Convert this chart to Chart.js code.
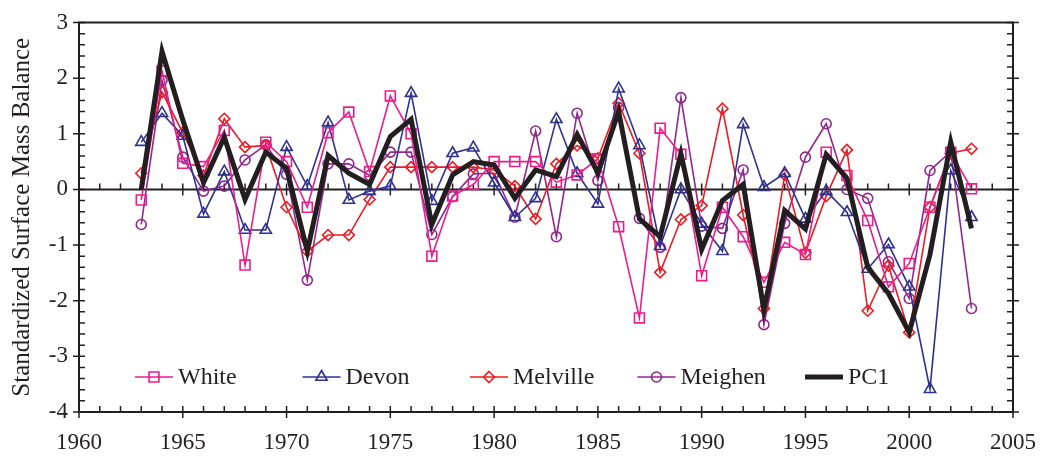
<!DOCTYPE html>
<html>
<head>
<meta charset="utf-8">
<script src="https://cdn.jsdelivr.net/npm/chart.js@4.4.1/dist/chart.umd.min.js"></script>
<style>
  html, body { margin: 0; padding: 0; background: #fff; }
  #wrap { width: 1053px; height: 467px; }
</style>
</head>
<body>
<div id="wrap"><canvas id="massChart" width="1053" height="467"></canvas></div>
<script>
const years = [1963, 1964, 1965, 1966, 1967, 1968, 1969, 1970, 1971, 1972,
  1973, 1974, 1975, 1976, 1977, 1978, 1979, 1980, 1981, 1982,
  1983, 1984, 1985, 1986, 1987, 1988, 1989, 1990, 1991, 1992,
  1993, 1994, 1995, 1996, 1997, 1998, 1999, 2000, 2001, 2002, 2003];

const white = [-0.19, 2.13, 0.47, 0.41, 1.06, -1.36, 0.85, 0.50, -0.32, 1.02,
  1.39, 0.32, 1.68, 1.00, -1.20, -0.12, 0.09, 0.50, 0.50, 0.50,
  0.13, 0.26, 0.55, -0.67, -2.31, 1.10, 0.63, -1.55, -0.32, -0.85,
  -1.67, -0.95, -1.17, 0.67, 0.25, -0.56, -1.75, -1.33, -0.32, 0.67, 0.01];

const devon = [0.85, 1.37, 0.96, -0.44, 0.32, -0.73, -0.73, 0.76, 0.06, 1.20,
  -0.19, -0.03, 0.06, 1.73, -0.21, 0.65, 0.75, 0.12, -0.50, -0.16,
  1.26, 0.29, -0.26, 1.81, 0.79, -1.02, 0.00, -0.62, -1.11, 1.17,
  0.04, 0.29, -0.53, -0.03, -0.41, -1.43, -0.99, -1.75, -3.59, 0.34, -0.50];

const melville = [0.29, 1.75, 1.02, 0.25, 1.27, 0.76, 0.79, -0.32, -1.11, -0.82,
  -0.82, -0.18, 0.40, 0.40, 0.40, 0.40, 0.40, 0.35, 0.06, -0.53,
  0.46, 0.79, 0.56, 1.55, 0.65, -1.49, -0.54, -0.29, 1.45, -0.46,
  -2.14, 0.26, -1.14, -0.12, 0.71, -2.18, -1.37, -2.57, -0.32, 0.65, 0.73];

const meighen = [-0.63, 1.96, 0.58, -0.03, 0.06, 0.53, 0.80, 0.27, -1.63, 0.46,
  0.46, 0.25, 0.67, 0.67, -0.81, -0.13, 0.28, 0.29, -0.50, 1.05,
  -0.85, 1.37, 0.16, 1.47, -0.52, -1.04, 1.65, -0.66, -0.70, 0.35,
  -2.43, -0.61, 0.58, 1.18, 0.00, -0.16, -1.30, -1.96, 0.34, 0.68, -2.14];

const pc1 = [0.00, 2.48, 1.25, 0.12, 0.94, -0.18, 0.67, 0.38, -1.11, 0.61,
  0.29, 0.09, 0.95, 1.26, -0.63, 0.26, 0.50, 0.44, -0.16, 0.35,
  0.23, 0.99, 0.30, 1.40, -0.53, -0.85, 0.64, -1.08, -0.20, 0.09,
  -2.16, -0.38, -0.71, 0.63, 0.20, -1.40, -1.87, -2.57, -1.17, 0.85, -0.70];

const seriesNames = ['White', 'Devon', 'Melville', 'Meighen', 'PC1'];
const xTicks = [1960, 1965, 1970, 1975, 1980, 1985, 1990, 1995, 2000, 2005];
const yTicks = [-4, -3, -2, -1, 0, 1, 2, 3];

const INK = '#231f20';
const FONT = "'Liberation Serif', 'Times New Roman', serif";

function points(values) {
  return years.map((yr, i) => ({ x: yr, y: values[i] }));
}

function series(label, values, color, style, radius) {
  return {
    label: label,
    data: points(values),
    borderColor: color,
    borderWidth: 1.6,
    pointStyle: style,
    pointRadius: radius,
    pointBorderColor: color,
    pointBackgroundColor: 'rgba(0,0,0,0)',
    pointBorderWidth: 1.6,
    tension: 0,
    order: 1
  };
}

const datasets = [
  series(seriesNames[0], white, '#ec1c8c', 'rect', 7),
  series(seriesNames[1], devon, '#2e3192', 'triangle', 6.5),
  series(seriesNames[2], melville, '#ed1c24', 'rectRot', 5.5),
  series(seriesNames[3], meighen, '#92278f', 'circle', 5),
  {
    label: seriesNames[4],
    data: points(pc1),
    borderColor: INK,
    borderWidth: 5,
    pointRadius: 0,
    tension: 0,
    order: 0
  }
];

// box, zero line and the small in/out tick marks
const frameTicks = {
  id: 'frameTicks',
  beforeDatasetsDraw(chart) {
    const { ctx, chartArea: a, scales: { x, y } } = chart;
    const y0 = y.getPixelForValue(0);
    ctx.save();
    ctx.strokeStyle = INK;
    ctx.lineWidth = 2;
    ctx.strokeRect(a.left, a.top, a.right - a.left, a.bottom - a.top);
    ctx.beginPath();
    ctx.moveTo(a.left, y0);
    ctx.lineTo(a.right, y0);
    ctx.stroke();

    ctx.lineWidth = 1.5;
    ctx.beginPath();
    for (let yr = x.min; yr <= x.max; yr++) {
      const px = x.getPixelForValue(yr);
      const major = yr % 5 === 0;
      ctx.moveTo(px, a.bottom + (major ? 6 : 0));
      ctx.lineTo(px, a.bottom - 6);
      ctx.moveTo(px, y0 + (major ? 6 : 0));
      ctx.lineTo(px, y0 - 6);
    }
    for (let i = y.min * 5; i <= y.max * 5; i++) {
      const py = y.getPixelForValue(i / 5);
      const major = i % 5 === 0;
      ctx.moveTo(a.left - (major ? 6 : 0), py);
      ctx.lineTo(a.left + 6, py);
      ctx.moveTo(a.right + (major ? 6 : 0), py);
      ctx.lineTo(a.right - 6, py);
    }
    ctx.stroke();
    ctx.restore();
  }
};

function drawMarker(ctx, style, r, cx, cy) {
  ctx.beginPath();
  if (style === 'rect') {
    const s = r * Math.SQRT1_2;
    ctx.rect(cx - s, cy - s, 2 * s, 2 * s);
  } else if (style === 'rectRot') {
    ctx.moveTo(cx, cy - r);
    ctx.lineTo(cx + r, cy);
    ctx.lineTo(cx, cy + r);
    ctx.lineTo(cx - r, cy);
    ctx.closePath();
  } else if (style === 'triangle') {
    const half = r * Math.sin(Math.PI / 3);
    ctx.moveTo(cx, cy - r);
    ctx.lineTo(cx + half, cy + r / 2);
    ctx.lineTo(cx - half, cy + r / 2);
    ctx.closePath();
  } else if (style === 'circle') {
    ctx.arc(cx, cy, r, 0, Math.PI * 2);
  }
  ctx.stroke();
}

// legend row sitting inside the plot, near the bottom
const insideLegend = {
  id: 'insideLegend',
  afterDraw(chart) {
    const { ctx, chartArea: a } = chart;
    const rowY = a.bottom - 35;
    const startX = a.left + 56;
    const step = 167.5;
    const lineLen = 38;
    ctx.save();
    ctx.font = '24px ' + FONT;
    ctx.textBaseline = 'middle';
    ctx.fillStyle = INK;
    chart.data.datasets.forEach((ds, i) => {
      const x0 = startX + i * step;
      ctx.strokeStyle = ds.borderColor;
      ctx.lineWidth = ds.borderWidth;
      ctx.beginPath();
      ctx.moveTo(x0, rowY);
      ctx.lineTo(x0 + lineLen, rowY);
      ctx.stroke();
      if (ds.pointRadius > 0) {
        ctx.lineWidth = ds.pointBorderWidth;
        drawMarker(ctx, ds.pointStyle, ds.pointRadius, x0 + lineLen / 2, rowY);
      }
      ctx.fillText(ds.label, x0 + lineLen + 5, rowY + 1);
    });
    ctx.restore();
  }
};

new Chart(document.getElementById('massChart'), {
  type: 'line',
  data: { datasets: datasets },
  options: {
    responsive: false,
    animation: false,
    devicePixelRatio: 1,
    layout: { padding: { left: 0, right: 29, top: 12, bottom: 0 } },
    plugins: { legend: { display: false }, tooltip: { enabled: false } },
    scales: {
      x: {
        type: 'linear',
        min: 1960,
        max: 2005,
        grid: { display: false, drawTicks: false },
        border: { display: false },
        afterBuildTicks(scale) { scale.ticks = xTicks.map(v => ({ value: v })); },
        ticks: {
          color: INK,
          padding: 17,
          maxRotation: 0,
          autoSkip: false,
          font: { family: FONT, size: 23 },
          callback: v => String(v)
        },
        afterFit(scale) { scale.height = 55; }
      },
      y: {
        min: -4,
        max: 3,
        grid: { display: false, drawTicks: false },
        border: { display: false },
        afterBuildTicks(scale) { scale.ticks = yTicks.map(v => ({ value: v })); },
        ticks: {
          color: INK,
          padding: 11,
          font: { family: FONT, size: 23, lineHeight: 1 },
          callback: v => String(v)
        },
        title: {
          display: true,
          text: 'Standardized Surface Mass Balance',
          color: INK,
          font: { family: FONT, size: 25 },
          padding: { top: 7, bottom: 0 }
        },
        afterFit(scale) { scale.width = 79; }
      }
    }
  },
  plugins: [frameTicks, insideLegend]
});
</script>
</body>
</html>
